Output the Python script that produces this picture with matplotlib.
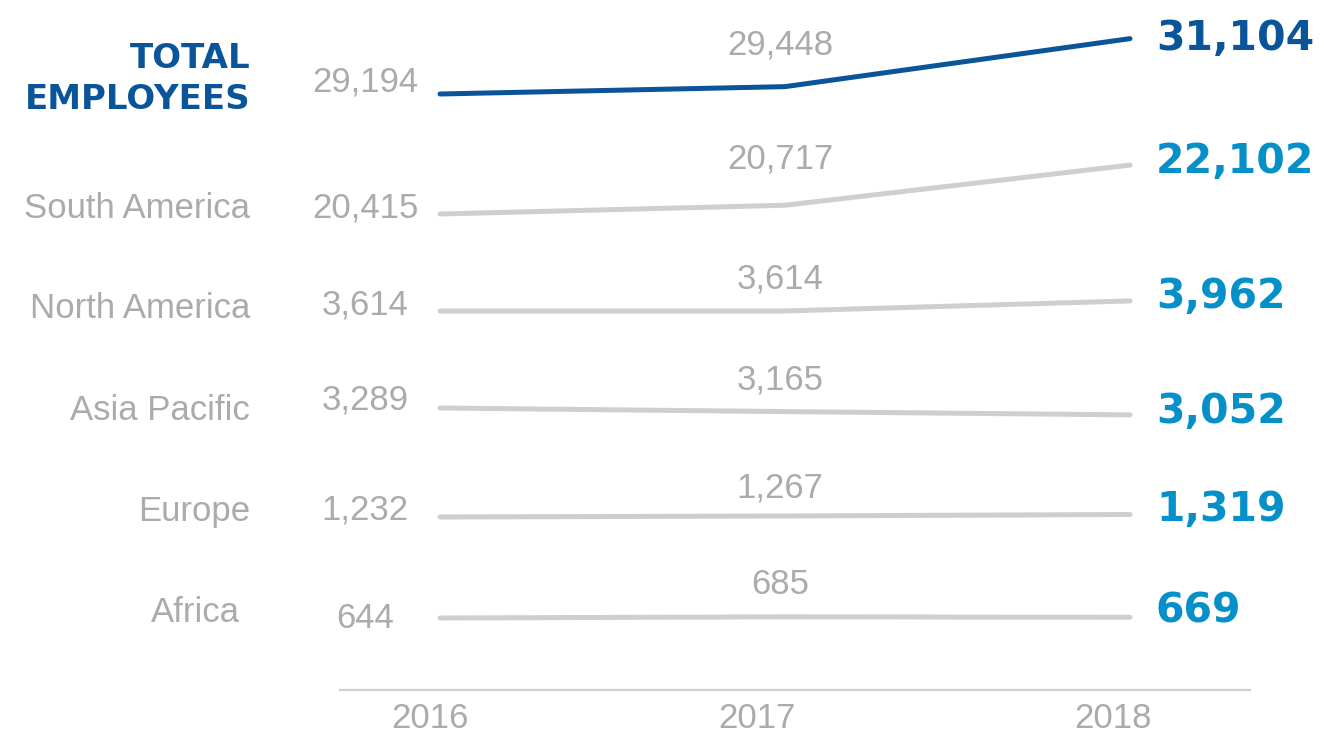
import matplotlib.pyplot as plt
from matplotlib.transforms import offset_copy

years = [2016, 2017, 2018]
regions = ["TOTAL\nEMPLOYEES", "South America", "North America",
           "Asia Pacific", "Europe", "Africa"]
total = [29194, 29448, 31104]
south_america = [20415, 20717, 22102]
north_america = [3614, 3614, 3962]
asia_pacific = [3289, 3165, 3052]
europe = [1232, 1267, 1319]
africa = [644, 685, 669]
series = [total, south_america, north_america, asia_pacific, europe, africa]

# layout (pixels on a 1324x736 canvas)
W, H = 1324, 736
X0, STEP = 440, 345          # 2016 position and px per year
ROW_Y = [94, 214, 311, 408, 517, 618]   # where each row starts (from top)
UNITS_PER_PX = 34.5          # same vertical scale on every row
LIFT_2016 = [12, 6, 6, 8, 7, 0]
LIFT_2017 = [42, 46, 32, 32, 28, 32]
LIFT_2018 = [0, 3, 4, 3, 4, 6]
LIFT_NAME = [15, 6, 2, -2, 5, 6]

DARK = "#0a5599"
LIGHT = "#0590c9"
GREY_TXT = "#ababab"
GREY_LINE = "#cfcfd0"
LIGHT_FONT = "Liberation Sans"

fig = plt.figure(figsize=(W / 100, H / 100), dpi=100)
xlim = (years[0] - X0 / STEP, years[0] + (W - X0) / STEP)

for i, (name, vals) in enumerate(zip(regions, series)):
    ax = fig.add_axes([0, 0, 1, 1])
    ax.set_axis_off()
    ax.patch.set_alpha(0)
    ax.set_xlim(xlim)
    y0 = ROW_Y[i]
    ax.set_ylim(vals[0] - UNITS_PER_PX * (H - y0), vals[0] + UNITS_PER_PX * y0)
    is_total = i == 0
    ax.plot(years, vals, color=DARK if is_total else GREY_LINE,
            lw=3.6, solid_capstyle="round", solid_joinstyle="round",
            clip_on=False)

    def shifted(dx, dy):
        return offset_copy(ax.transData, fig=fig, x=dx, y=dy, units="dots")

    ax.text(years[0], vals[0], f"{vals[0]:,}", transform=shifted(-75, LIFT_2016[i]),
            ha="center", va="center", fontsize=25, color=GREY_TXT,
            family=LIGHT_FONT)
    ax.text(years[1], vals[1], f"{vals[1]:,}", transform=shifted(-5, LIFT_2017[i]),
            ha="center", va="center", fontsize=25, color=GREY_TXT,
            family=LIGHT_FONT)
    ax.text(years[2], vals[2], f"{vals[2]:,}", transform=shifted(26, LIFT_2018[i]),
            ha="left", va="center", fontsize=29.5, color=DARK if is_total else LIGHT,
            family="DejaVu Sans", fontweight="bold")
    name_dx = -190 if name != "Africa" else -200
    if is_total:
        ax.text(years[0], vals[0], name, transform=shifted(name_dx, LIFT_NAME[i]),
                ha="right", va="center", fontsize=24.5, color=DARK,
                family="DejaVu Sans", fontweight="bold", linespacing=1.3,
                multialignment="right")
    else:
        ax.text(years[0], vals[0], name, transform=shifted(name_dx, LIFT_NAME[i]),
                ha="right", va="center", fontsize=25, color=GREY_TXT,
                family=LIGHT_FONT)

# baseline with year labels
base = fig.add_axes([340 / W, (H - 690) / H, 910 / W, 0.3])
base.patch.set_alpha(0)
base.set_xlim(years[0] + (340 - X0) / STEP, years[0] + (1250 - X0) / STEP)
for side in ["top", "left", "right"]:
    base.spines[side].set_visible(False)
base.spines["bottom"].set_color(GREY_LINE)
base.spines["bottom"].set_linewidth(1.6)
base.set_yticks([])
base.set_xticks([])
for yr, dx in zip(years, [-10, -28, -17]):
    base.text(yr, 0, str(yr),
              transform=offset_copy(base.get_xaxis_transform(), fig=fig, x=dx, y=-28, units="dots"),
              ha="center", va="center", fontsize=25, color=GREY_TXT, family=LIGHT_FONT)

fig.savefig("out.png", dpi=100)
